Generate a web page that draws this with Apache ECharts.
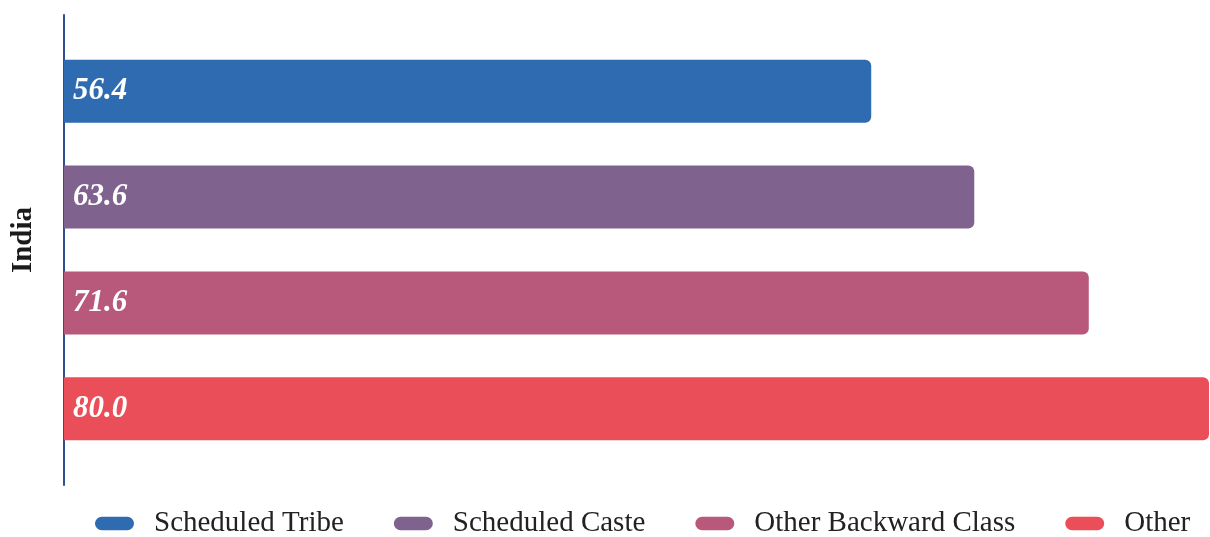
<!DOCTYPE html>
<html>
<head>
<meta charset="utf-8">
<script src="https://cdn.jsdelivr.net/npm/echarts@6/dist/echarts.min.js"></script>
<style>
  html, body { margin: 0; padding: 0; background: #ffffff; }
  #chart { width: 1210px; height: 537px; }
</style>
</head>
<body>
<div id="chart"></div>
<script>
// Share by social group, India
const categories = ['India'];
const groupNames = ['Scheduled Tribe', 'Scheduled Caste', 'Other Backward Class', 'Other'];
const scheduledTribe = [56.4];
const scheduledCaste = [63.6];
const otherBackwardClass = [71.6];
const other = [80.0];

const groupValues = [scheduledTribe, scheduledCaste, otherBackwardClass, other];
const groupColors = ['#2e6bb0', '#80628f', '#b8587a', '#ea4f59'];

const serif = '"Liberation Serif", "Times New Roman", "DejaVu Serif", serif';

// pill-shaped legend marker
const pillIcon = 'path://M7,0 H33 A7,7 0 0 1 33,14 H7 A7,7 0 0 1 7,0 Z';

const chart = echarts.init(document.getElementById('chart'), null, { renderer: 'canvas' });

const series = groupNames.map((name, i) => ({
  name: name,
  type: 'bar',
  data: groupValues[i],
  barWidth: 63,
  barGap: '68%',
  itemStyle: { color: groupColors[i], borderRadius: [0, 6, 6, 0] },
  label: {
    show: true,
    position: 'insideLeft',
    distance: 9,
    formatter: p => p.value.toFixed(1),
    color: '#ffffff',
    fontFamily: serif,
    fontStyle: 'italic',
    fontWeight: 'bold',
    fontSize: 31
  }
}));

chart.setOption({
  backgroundColor: '#ffffff',
  animation: false,
  grid: { left: 64, right: 1, top: 15, bottom: 52, containLabel: false },
  xAxis: {
    type: 'value',
    min: 0,
    max: 80,
    show: false
  },
  yAxis: {
    type: 'category',
    data: categories,
    inverse: true,
    axisLine: { show: true, lineStyle: { color: '#2c4f8f', width: 2 } },
    axisTick: { show: false },
    axisLabel: {
      rotate: 90,
      margin: 26,
      color: '#1a1a1a',
      fontFamily: serif,
      fontWeight: 'bold',
      fontSize: 29,
      padding: [0, 0, 0, 20]
    }
  },
  legend: {
    data: groupNames,
    left: 95,
    top: 509,
    padding: 0,
    icon: pillIcon,
    itemWidth: 39,
    itemHeight: 14,
    itemGap: 50,
    textStyle: {
      color: '#222222',
      fontFamily: serif,
      fontSize: 29,
      lineHeight: 29,
      padding: [0, 0, 0, 15]
    }
  },
  series: series
});
</script>
</body>
</html>
